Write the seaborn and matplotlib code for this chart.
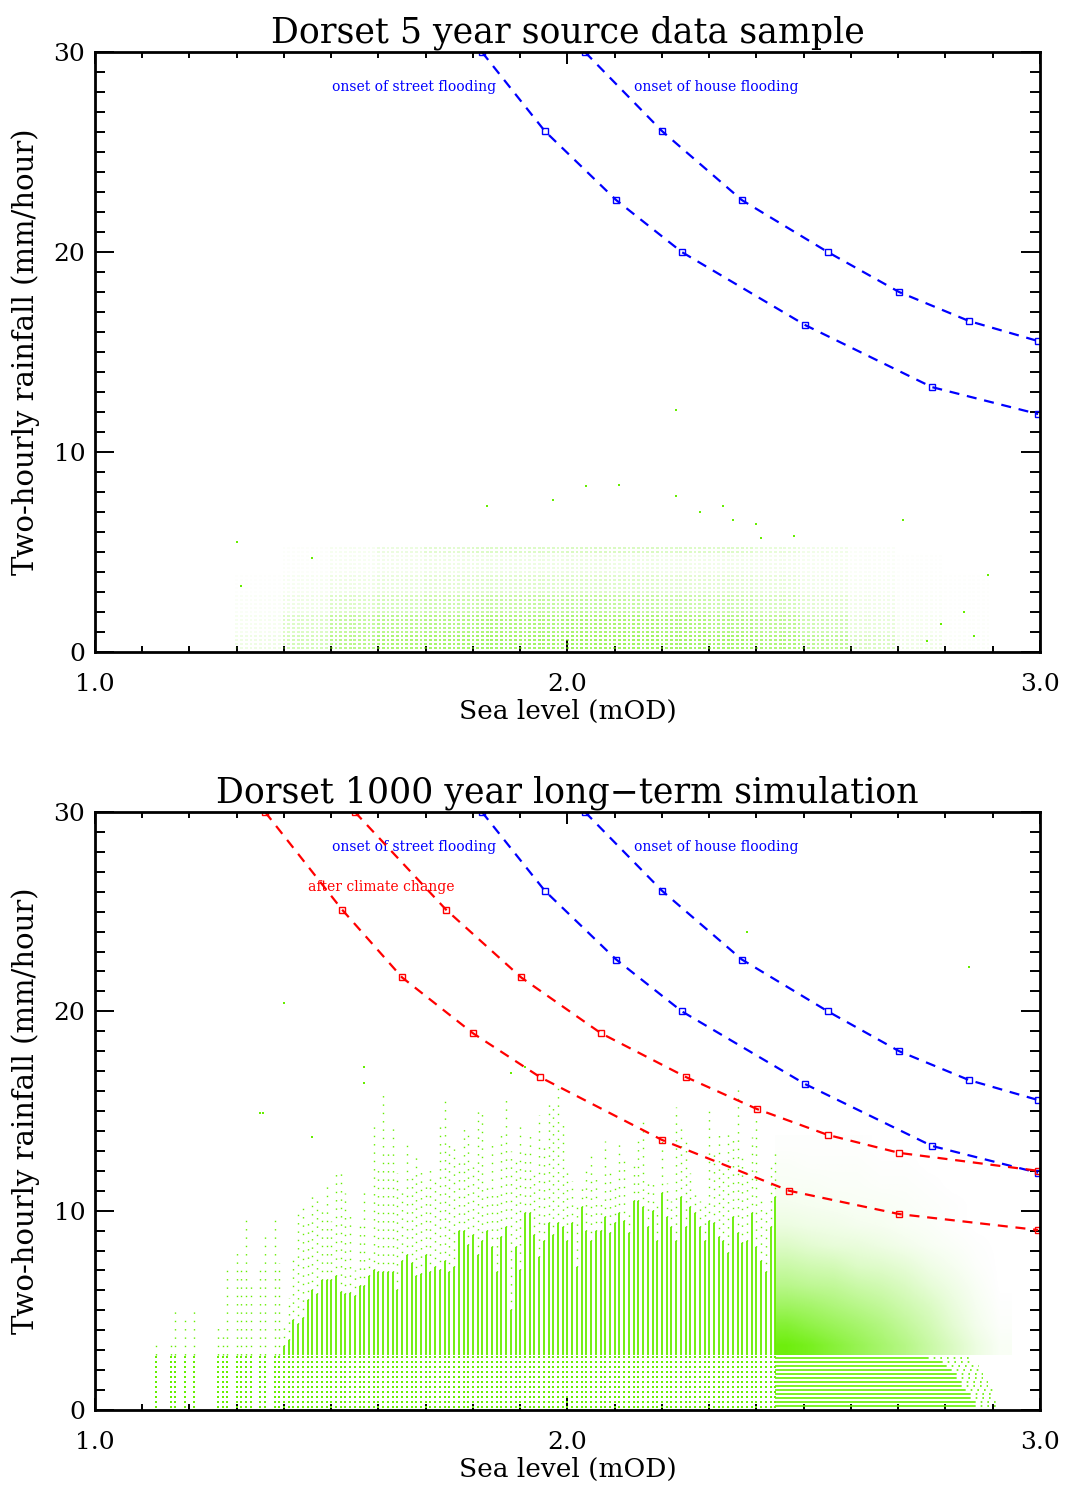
import numpy as np
import seaborn as sns
import matplotlib.pyplot as plt
from matplotlib.ticker import MultipleLocator

# ---- flood onset curves (sea level mOD, two-hourly rainfall mm/hour) ----
street_x = [1.819, 1.952, 2.103, 2.242, 2.503, 2.771, 2.996]
street_y = [30.0, 26.05, 22.6, 20.0, 16.35, 13.25, 11.9]
house_x = [2.037, 2.200, 2.369, 2.551, 2.702, 2.850, 2.996]
house_y = [30.0, 26.05, 22.6, 20.0, 18.0, 16.55, 15.55]
cc_street_x = [1.360, 1.523, 1.650, 1.800, 1.942, 2.200, 2.469, 2.702, 2.996]
cc_street_y = [30.0, 25.1, 21.7, 18.9, 16.7, 13.55, 11.0, 9.83, 9.03]
cc_house_x = [1.550, 1.743, 1.902, 2.071, 2.251, 2.401, 2.551, 2.702, 2.996]
cc_house_y = [30.0, 25.1, 21.7, 18.9, 16.7, 15.1, 13.8, 12.9, 12.0]

# ---- 5 year sample: share of data-grid points that are filled, per cell ----
top_x_edges = [1.3, 1.4, 1.5, 1.6, 1.7, 1.8, 1.9, 2.0, 2.1, 2.2, 2.3, 2.4, 2.5, 2.6, 2.7, 2.8, 2.9]
top_y_edges = [0, 1, 2, 3, 4, 5, 5.3]
top_density = [
    [0.10, 0.28, 0.45, 0.55, 0.58, 0.60, 0.60, 0.62, 0.62, 0.60, 0.58, 0.52, 0.42, 0.24, 0.10, 0.03],
    [0.06, 0.22, 0.38, 0.45, 0.48, 0.52, 0.52, 0.55, 0.55, 0.52, 0.48, 0.42, 0.30, 0.15, 0.06, 0.02],
    [0.03, 0.10, 0.22, 0.28, 0.33, 0.36, 0.38, 0.40, 0.38, 0.34, 0.33, 0.27, 0.18, 0.09, 0.03, 0.01],
    [0.01, 0.05, 0.10, 0.14, 0.18, 0.20, 0.21, 0.22, 0.21, 0.18, 0.18, 0.15, 0.09, 0.05, 0.02, 0.01],
    [0.00, 0.02, 0.05, 0.08, 0.10, 0.11, 0.11, 0.12, 0.11, 0.09, 0.09, 0.08, 0.06, 0.03, 0.01, 0.00],
    [0.00, 0.02, 0.06, 0.12, 0.18, 0.22, 0.22, 0.24, 0.24, 0.22, 0.21, 0.15, 0.09, 0.03, 0.00, 0.00],
]
top_outlier_x = [1.30, 1.31, 1.46, 1.83, 1.97, 2.04, 2.11, 2.23, 2.28, 2.33, 2.35, 2.40, 2.41,
                 2.48, 2.71, 2.89, 2.84, 2.86, 2.79, 2.76, 2.23]
top_outlier_y = [5.5, 3.3, 4.7, 7.3, 7.6, 8.3, 8.35, 7.8, 7.0, 7.3, 6.6, 6.4, 5.7,
                 5.8, 6.6, 3.85, 2.0, 0.8, 1.4, 0.55, 12.1]

# ---- 1000 year simulation: columns of points at fixed sea levels ----
col_x = [1.13, 1.16, 1.17, 1.19, 1.21, 1.26, 1.27, 1.28, 1.30, 1.31, 1.32, 1.33, 1.35, 1.36, 1.38, 1.39,
         1.40, 1.41, 1.42, 1.43, 1.44, 1.45, 1.46, 1.47, 1.48, 1.49, 1.50, 1.51, 1.52, 1.53, 1.54, 1.55,
         1.56, 1.57, 1.58, 1.59, 1.60, 1.61, 1.62, 1.63, 1.64, 1.65, 1.66, 1.67, 1.68, 1.69, 1.70, 1.71,
         1.72, 1.73, 1.74, 1.75, 1.76, 1.77, 1.78, 1.79, 1.80, 1.81, 1.82, 1.83, 1.84, 1.85, 1.86, 1.87,
         1.88, 1.89, 1.90, 1.91, 1.92, 1.93, 1.94, 1.95, 1.96, 1.97, 1.98, 1.99, 2.00, 2.01, 2.02, 2.03,
         2.04, 2.05, 2.06, 2.07, 2.08, 2.09, 2.10, 2.11, 2.12, 2.13, 2.14, 2.15, 2.16, 2.17, 2.18, 2.19,
         2.20, 2.21, 2.22, 2.23, 2.24, 2.25, 2.26, 2.27, 2.28, 2.29, 2.30, 2.31, 2.32, 2.33, 2.34, 2.35,
         2.36, 2.37, 2.38, 2.39, 2.40, 2.41, 2.42, 2.43, 2.44]
# top of the dense (continuous) part of each column
col_dense = [0, 0, 0, 0, 0, 0, 0, 0, 0, 0, 0, 0, 0, 0, 0, 0,
             3.2, 3.5, 4.5, 4.3, 4.6, 5.5, 6.0, 5.8, 6.5, 6.5, 6.5, 6.7, 5.9, 5.8, 5.85, 5.7,
             6.2, 6.2, 6.7, 7.0, 6.9, 6.9, 6.9, 6.9, 6.0, 7.5, 7.8, 7.4, 6.7, 6.8, 7.8, 6.9,
             7.2, 7.0, 7.5, 6.9, 7.2, 9.0, 9.0, 8.3, 8.8, 7.8, 8.5, 9.0, 8.2, 6.9, 8.7, 9.2,
             5.0, 8.2, 7.0, 9.9, 9.9, 8.8, 7.7, 8.5, 9.4, 8.8, 9.4, 9.2, 8.5, 9.4, 7.2, 10.2,
             9.0, 8.5, 9.0, 9.0, 9.7, 8.9, 9.4, 9.9, 9.5, 8.9, 10.5, 10.5, 10.2, 9.2, 10.0, 8.5,
             10.9, 9.7, 9.2, 8.5, 10.7, 9.2, 10.2, 9.9, 9.2, 8.5, 9.5, 9.4, 8.7, 8.5, 7.9, 9.7,
             8.9, 8.4, 8.5, 9.9, 8.2, 7.5, 6.9, 9.2, 10.7]
# highest point in each column
col_max = [3.4, 3.55, 5.2, 4.6, 5.2, 4.25, 3.9, 7.0, 8.2, 7.2, 9.7, 6.5, 7.2, 8.85, 9.85, 7.4,
           4.4, 5.6, 7.6, 9.85, 10.2, 9.7, 10.8, 10.8, 10.1, 11.4, 9.5, 12.0, 12.0, 10.9, 10.0, 7.0,
           9.3, 11.0, 7.9, 14.4, 12.2, 15.9, 13.0, 14.3, 11.9, 11.2, 13.5, 11.8, 13.0, 12.0, 11.3, 12.3,
           11.7, 14.5, 15.6, 13.5, 13.1, 12.5, 14.1, 14.0, 12.2, 15.0, 15.1, 11.4, 13.3, 10.9, 13.9, 15.7,
           13.0, 12.5, 14.5, 13.0, 13.8, 11.8, 14.8, 13.3, 15.4, 15.4, 16.4, 14.5, 12.0, 11.5, 10.2, 11.2,
           12.2, 12.8, 11.9, 10.5, 13.5, 11.9, 11.4, 13.5, 12.7, 9.9, 12.5, 13.5, 14.7, 11.5, 11.4, 10.5,
           13.5, 11.4, 10.5, 15.2, 14.2, 13.5, 11.9, 10.9, 10.5, 10.5, 15.2, 12.9, 14.0, 12.2, 13.9, 13.7,
           16.4, 12.9, 11.9, 13.7, 14.7, 10.5, 10.2, 12.2, 13.0]
low_rows = [0.15, 0.4, 0.65, 0.9, 1.15, 1.4, 1.65, 1.9, 2.15, 2.4, 2.65]
dense_base = 2.75

# right hand block (sea level > 2.44): rows of low rainfall and a scattered cloud
right_rows = [0.2, 0.4, 0.6, 0.8, 1.0, 1.2, 1.4, 1.6, 1.8, 2.0, 2.2, 2.4, 2.6]
right_solid_end = [2.86, 2.86, 2.85, 2.85, 2.84, 2.83, 2.83, 2.82, 2.82, 2.81, 2.80, 2.79, 2.76]
right_dot_end = [2.91, 2.91, 2.90, 2.90, 2.90, 2.89, 2.89, 2.88, 2.88, 2.88, 2.87, 2.86, 2.85]
cloud_x_range = [2.44, 2.94]
cloud_y_range = [2.75, 13.75]
cloud_density = [
    [0.95, 0.88, 0.78, 0.68, 0.58, 0.48, 0.36, 0.24, 0.12, 0.04],
    [0.80, 0.72, 0.65, 0.58, 0.50, 0.40, 0.30, 0.18, 0.08, 0.02],
    [0.62, 0.58, 0.52, 0.46, 0.40, 0.32, 0.24, 0.14, 0.06, 0.01],
    [0.46, 0.42, 0.40, 0.34, 0.30, 0.24, 0.16, 0.10, 0.04, 0.00],
    [0.34, 0.30, 0.28, 0.22, 0.20, 0.16, 0.10, 0.06, 0.02, 0.00],
    [0.22, 0.18, 0.15, 0.14, 0.11, 0.08, 0.05, 0.03, 0.01, 0.00],
    [0.12, 0.10, 0.09, 0.07, 0.06, 0.04, 0.03, 0.01, 0.00, 0.00],
    [0.07, 0.06, 0.05, 0.04, 0.04, 0.03, 0.02, 0.01, 0.00, 0.00],
    [0.04, 0.04, 0.03, 0.03, 0.02, 0.02, 0.01, 0.00, 0.00, 0.00],
    [0.03, 0.02, 0.02, 0.02, 0.01, 0.01, 0.00, 0.00, 0.00, 0.00],
    [0.01, 0.01, 0.01, 0.01, 0.00, 0.00, 0.00, 0.00, 0.00, 0.00],
]
bot_outlier_x = [1.35, 1.46, 1.40, 2.38, 2.85, 1.355, 1.57, 1.57, 1.88, 1.91]
bot_outlier_y = [14.9, 13.7, 20.4, 24.0, 22.2, 14.9, 17.2, 16.4, 16.9, 17.2]

GREEN = "#66ee00"
BLUE = "#0000ff"
RED = "#ff0000"

sns.set_style("white")
plt.rcParams["font.family"] = ["DejaVu Serif"]
plt.rcParams["text.color"] = "black"
plt.rcParams["axes.labelcolor"] = "black"

fig = plt.figure(figsize=(10.66, 14.88), dpi=100)
ax1 = fig.add_axes([0.0891, 0.5618, 0.8865, 0.4032])
ax2 = fig.add_axes([0.0891, 0.0524, 0.8865, 0.4019])


def style_axes(ax, title):
    ax.set_xlim(1.0, 3.0)
    ax.set_ylim(0, 30)
    ax.set_xticks([1.0, 2.0, 3.0])
    ax.set_xticklabels(["1.0", "2.0", "3.0"])
    ax.set_yticks([0, 10, 20, 30])
    ax.xaxis.set_minor_locator(MultipleLocator(0.1))
    ax.yaxis.set_minor_locator(MultipleLocator(1))
    ax.tick_params(which="both", direction="in", top=True, right=True, bottom=True, left=True,
                   width=1.4, colors="black")
    ax.tick_params(axis="x", which="major", length=8.5, labelsize=18, pad=15)
    ax.tick_params(axis="x", which="minor", length=4)
    ax.tick_params(axis="y", which="major", length=14, labelsize=18, pad=7)
    ax.tick_params(axis="y", which="minor", length=7)
    for sp in ax.spines.values():
        sp.set_linewidth(2)
        sp.set_color("black")
        sp.set_zorder(10)
    ax.set_xlabel("Sea level (mOD)", fontsize=19, labelpad=2, color="black")
    ax.set_ylabel("Two-hourly rainfall (mm/hour)", fontsize=21, labelpad=10, color="black")
    ax.set_title(title, fontsize=25, pad=7, color="black")


def draw_curve(ax, xs, ys, color):
    sns.lineplot(x=xs, y=ys, ax=ax, color=color, linewidth=1.6, linestyle=(0, (4.5, 3.5)),
                 marker="s", markersize=4.5, markerfacecolor="none",
                 markeredgecolor=color, markeredgewidth=1, zorder=5)


# ---------------- top panel ----------------
lat_x = np.round(np.arange(1.30, 2.90, 0.01), 2)
lat_y = np.round(np.arange(0.2, 5.3, 0.2), 2)
gx, gy = np.meshgrid(lat_x, lat_y)
gx, gy = gx.ravel(), gy.ravel()
ix = np.clip(np.searchsorted(top_x_edges, gx, side="right") - 1, 0, len(top_x_edges) - 2)
iy = np.clip(np.searchsorted(top_y_edges, gy, side="right") - 1, 0, len(top_y_edges) - 2)
alpha = np.array(top_density)[iy, ix]
rgba = np.zeros((len(gx), 4))
rgba[:, :3] = plt.matplotlib.colors.to_rgb(GREEN)
rgba[:, 3] = alpha
ax1.scatter(gx, gy, s=4.0, marker="s", c=rgba, linewidths=0, zorder=2)
ax1.scatter(top_outlier_x, top_outlier_y, s=4.0, marker="s", color=GREEN, linewidths=0, zorder=2)

draw_curve(ax1, street_x, street_y, BLUE)
draw_curve(ax1, house_x, house_y, BLUE)
ax1.text(1.502, 28.25, "onset of street flooding", color=BLUE, fontsize=10, va="center")
ax1.text(2.141, 28.25, "onset of house flooding", color=BLUE, fontsize=10, va="center")
style_axes(ax1, "Dorset 5 year source data sample")

# ---------------- bottom panel ----------------
col_x_a = np.array(col_x)
dense_top = np.maximum(np.array(col_dense), dense_base)
col_max_a = np.array(col_max)
ax2.vlines(col_x_a, dense_base, dense_top, color=GREEN, linewidth=1.3, zorder=2)
ax2.vlines(col_x_a, dense_top, np.maximum(col_max_a, dense_base),
           color=GREEN, linewidth=1.0, linestyles=[(0, (1, 5))], zorder=2)
px, py = [], []
for x, top in zip(col_x, col_max):
    for r in low_rows:
        if r <= top:
            px.append(x)
            py.append(r)
ax2.scatter(px, py, s=3.0, marker="s", color=GREEN, linewidths=0, zorder=2)

ax2.hlines(right_rows, 2.44, right_solid_end, color=GREEN, linewidth=1.2, zorder=2)
ax2.hlines(right_rows, right_solid_end, right_dot_end, color=GREEN, linewidth=1.2,
           linestyles=[(0, (1, 3))], zorder=2)
cd = np.array(cloud_density)
cloud = np.zeros(cd.shape + (4,))
cloud[..., :3] = plt.matplotlib.colors.to_rgb(GREEN)
cloud[..., 3] = cd
ax2.imshow(cloud, origin="lower", aspect="auto", interpolation="bilinear",
           extent=[cloud_x_range[0], cloud_x_range[1], cloud_y_range[0], cloud_y_range[1]], zorder=1)
ax2.scatter(bot_outlier_x, bot_outlier_y, s=3.0, marker="s", color=GREEN, linewidths=0, zorder=2)

draw_curve(ax2, street_x, street_y, BLUE)
draw_curve(ax2, house_x, house_y, BLUE)
draw_curve(ax2, cc_street_x, cc_street_y, RED)
draw_curve(ax2, cc_house_x, cc_house_y, RED)
ax2.text(1.502, 28.25, "onset of street flooding", color=BLUE, fontsize=10, va="center")
ax2.text(2.141, 28.25, "onset of house flooding", color=BLUE, fontsize=10, va="center")
ax2.text(1.451, 26.24, "after climate change", color=RED, fontsize=10, va="center")
style_axes(ax2, "Dorset 1000 year long\u2212term simulation")

fig.savefig("out.png", dpi=100)
